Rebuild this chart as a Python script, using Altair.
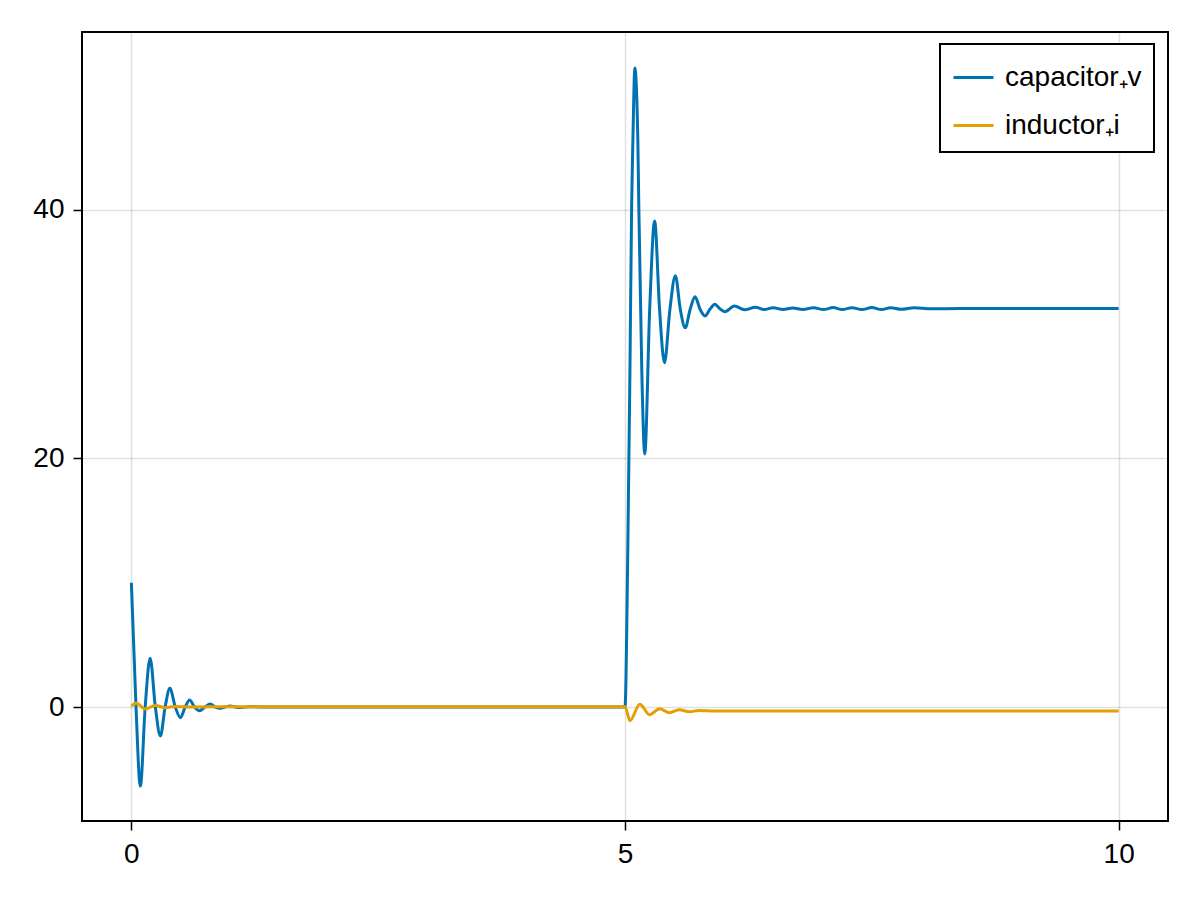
import altair as alt
import pandas as pd

# capacitor₊v series (time, value)
cap_t = [0.0, 0.047, 0.091, 0.14, 0.19, 0.243, 0.294, 0.342, 0.39, 0.445, 0.497, 0.545,
         0.59, 0.64, 0.69, 0.745, 0.8, 0.85, 0.9, 0.95, 1.0, 1.05, 1.1, 1.2, 1.4, 2.0,
         3.0, 4.0, 5.0, 5.027, 5.05, 5.067, 5.08, 5.1, 5.13, 5.14, 5.17, 5.2, 5.25,
         5.30, 5.35, 5.40, 5.455, 5.51, 5.56, 5.61, 5.66, 5.71, 5.76, 5.81, 5.86, 5.91,
         5.96, 6.01, 6.11, 6.21, 6.32, 6.41, 6.5, 6.6, 6.7, 6.8, 6.91, 7.01, 7.11, 7.2,
         7.3, 7.4, 7.5, 7.6, 7.69, 7.8, 7.93, 8.1, 8.4, 9.0, 10.0]
cap_v = [10.0, 0.0, -6.36, 0.0, 3.92, 0.0, -2.33, 0.0, 1.5, 0.0, -0.86, 0.0,
         0.56, 0.0, -0.3, 0.0, 0.24, 0.0, -0.1, 0.0, 0.08, 0.0, -0.04, 0.02, 0.0, 0.0,
         0.0, 0.0, 0.0, 11.8, 27.0, 40.2, 45.6, 51.4, 45.6, 40.2, 27.1, 20.35, 32.0,
         39.1, 32.0, 27.7, 32.0, 34.7, 32.0, 30.5, 32.0, 33.0, 32.0, 31.46, 32.0, 32.4,
         32.05, 31.8, 32.26, 31.95, 32.15, 31.97, 32.12, 31.98, 32.1, 31.98, 32.12, 31.97,
         32.13, 31.97, 32.12, 31.97, 32.13, 31.97, 32.12, 31.99, 32.12, 32.03, 32.06,
         32.06, 32.06]

# inductor₊i series
ind_t = [0.0, 0.05, 0.14, 0.24, 0.34, 0.44, 0.6, 1.0, 2.0, 3.0, 4.0, 5.0, 5.05,
         5.15, 5.25, 5.35, 5.45, 5.55, 5.65, 5.75, 5.9, 7.0, 8.5, 10.0]
ind_i = [0.08, 0.3, -0.16, 0.13, -0.05, 0.04, 0.0, 0.03, 0.03, 0.03, 0.03, 0.03, -1.1,
         0.22, -0.62, -0.14, -0.46, -0.22, -0.38, -0.28, -0.33, -0.32, -0.32, -0.32]

series_names = ["capacitor\u208av", "inductor\u208ai"]
series_colors = ["#0072B2", "#E69F00"]
x_ticks = [0, 5, 10]
y_ticks = [0, 20, 40]

df = pd.concat([
    pd.DataFrame({"t": cap_t, "v": cap_v, "series": series_names[0]}),
    pd.DataFrame({"t": ind_t, "v": ind_i, "series": series_names[1]}),
], ignore_index=True)

FONT = "Liberation Sans"

chart = alt.Chart(df).mark_line(strokeWidth=3, interpolate="monotone", clip=True).encode(
    x=alt.X("t:Q", scale=alt.Scale(domain=[-0.5, 10.5], nice=False, zero=False),
            axis=alt.Axis(values=x_ticks, title=None, format="d", labelPadding=10)),
    y=alt.Y("v:Q", scale=alt.Scale(domain=[-9.17, 54.3], nice=False, zero=False),
            axis=alt.Axis(values=y_ticks, title=None, format="d", labelPadding=9)),
    color=alt.Color("series:N",
                    scale=alt.Scale(domain=series_names, range=series_colors),
                    legend=alt.Legend(title=None, orient="none", legendX=858, legendY=12,
                                      symbolType="stroke", symbolSize=1600,
                                      symbolStrokeWidth=3, labelFontSize=28,
                                      labelFont=FONT, labelOffset=10, rowPadding=12,
                                      padding=12, strokeColor="black",
                                      fillColor="white", labelColor="black")),
    order=alt.Order("series:N"),
).properties(
    width=1086, height=789,
    autosize=alt.AutoSizeParams(type="none"),
    padding={"left": 74, "top": 24, "right": 24, "bottom": 70},
).configure_view(
    stroke="black", strokeWidth=2
).configure_axis(
    domain=False, grid=True, gridColor="#000000", gridOpacity=0.12, gridWidth=1.5,
    tickColor="black", tickSize=9, tickWidth=1.5, labelFont=FONT, labelFontSize=28,
    labelColor="black"
).configure_legend(
    strokeWidth=2
)

chart.save("out.html", embed_options={"renderer": "svg", "actions": False})
